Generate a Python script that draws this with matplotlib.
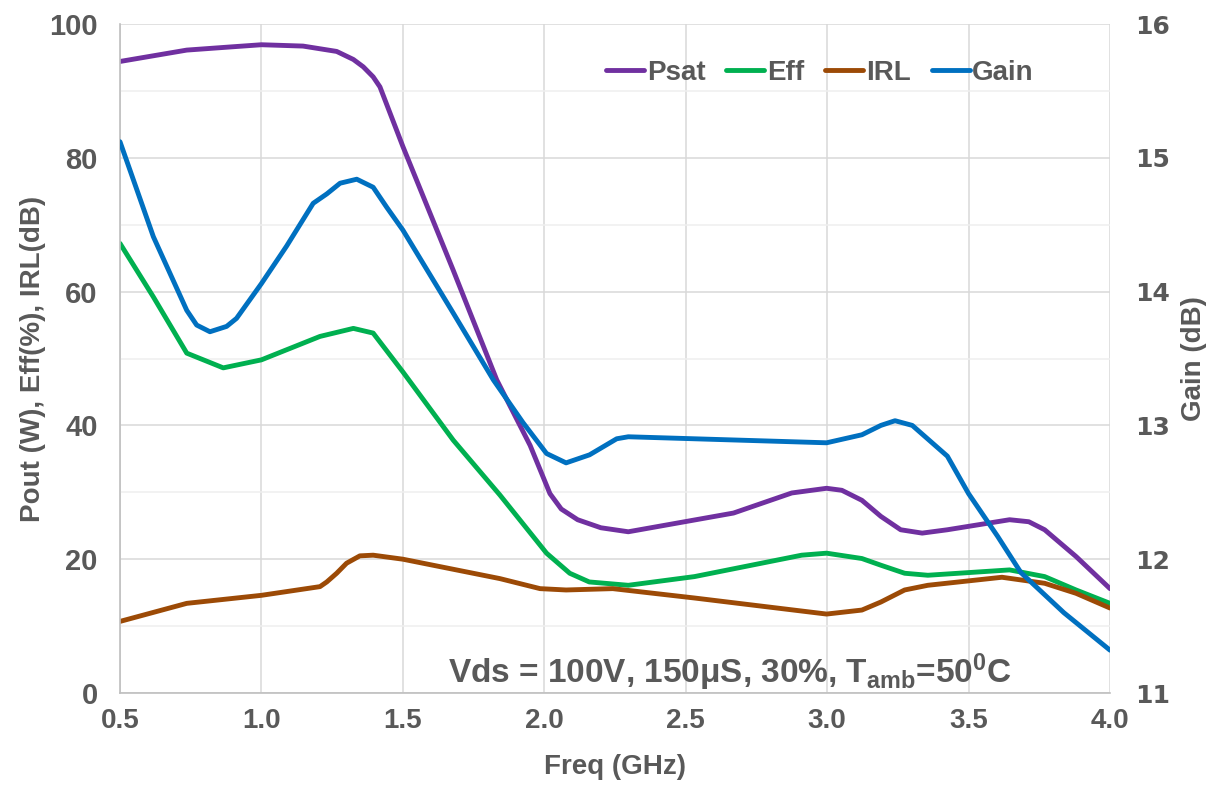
import matplotlib
matplotlib.use("Agg")
import matplotlib.pyplot as plt
from matplotlib.ticker import MultipleLocator, FormatStrFormatter

# ---- data ----
psat_f = [0.5, 0.736, 0.9, 1.0, 1.147, 1.266, 1.325, 1.36, 1.395, 1.419, 1.5, 1.678, 1.832, 1.95, 2.02,
          2.06, 2.118, 2.2, 2.297, 2.669, 2.875, 2.998, 3.052, 3.123, 3.19, 3.26, 3.336, 3.425, 3.645,
          3.713, 3.769, 3.88, 4.0]
psat_v = [94.4, 96.1, 96.6, 96.9, 96.7, 95.9, 94.7, 93.6, 92.1, 90.6, 81.7, 63.2, 46.8, 37.0, 29.8,
          27.5, 25.9, 24.7, 24.1, 26.9, 29.9, 30.6, 30.3, 28.8, 26.4, 24.4, 23.9, 24.4, 25.9,
          25.6, 24.4, 20.4, 15.6]

eff_f = [0.5, 0.618, 0.736, 0.865, 1.0, 1.207, 1.325, 1.395, 1.5, 1.678, 1.843, 2.008, 2.09, 2.159,
         2.297, 2.531, 2.91, 2.998, 3.123, 3.19, 3.274, 3.356, 3.645, 3.769, 3.88, 4.0]
eff_v = [67.2, 59.2, 50.8, 48.6, 49.8, 53.3, 54.5, 53.8, 48.0, 37.8, 29.6, 20.9, 17.9, 16.6,
         16.1, 17.4, 20.6, 20.9, 20.1, 19.1, 17.9, 17.6, 18.4, 17.4, 15.4, 13.4]

irl_f = [0.5, 0.736, 1.0, 1.207, 1.231, 1.266, 1.301, 1.348, 1.395, 1.5, 1.843, 1.985, 2.077, 2.242,
         2.531, 2.998, 3.123, 3.19, 3.274, 3.356, 3.618, 3.769, 3.88, 4.0]
irl_v = [10.7, 13.4, 14.6, 15.9, 16.6, 17.9, 19.4, 20.5, 20.6, 20.0, 17.1, 15.6, 15.4, 15.6,
         14.2, 11.8, 12.4, 13.6, 15.4, 16.1, 17.3, 16.4, 14.9, 12.7]

gain_f = [0.5, 0.618, 0.736, 0.771, 0.818, 0.877, 0.912, 1.0, 1.089, 1.183, 1.231, 1.278, 1.337, 1.395,
          1.443, 1.5, 1.678, 1.82, 1.925, 2.008, 2.077, 2.16, 2.256, 2.297, 2.998, 3.123, 3.19, 3.24,
          3.301, 3.425, 3.5, 3.603, 3.685, 3.837, 4.0]
gain_v = [15.12, 14.41, 13.86, 13.75, 13.70, 13.74, 13.80, 14.06, 14.34, 14.66, 14.73, 14.81, 14.84, 14.78,
          14.63, 14.46, 13.84, 13.34, 13.02, 12.79, 12.72, 12.78, 12.90, 12.915, 12.87, 12.93, 13.00, 13.035,
          13.00, 12.77, 12.49, 12.17, 11.90, 11.60, 11.32]

series_names = ["Psat", "Eff", "IRL", "Gain"]
colors = {"Psat": "#7030A0", "Eff": "#00B050", "IRL": "#9C4A06", "Gain": "#0070C0"}
note = "Vds = 100V, 150\u03bcS, 30%, T$_{amb}$=50$^{0}$C"

TXT = "#595959"
plt.rcParams["font.family"] = ["Liberation Sans", "DejaVu Sans"]
plt.rcParams["mathtext.default"] = "regular"

fig = plt.figure(figsize=(12.12, 7.85), dpi=100)
ax = fig.add_axes([120 / 1212, 1 - 693 / 785, 990 / 1212, 669 / 785])
ax2 = ax.twinx()

lw = 3.5
kw = dict(lw=lw, solid_joinstyle="round", solid_capstyle="round")
h1, = ax.plot(psat_f, psat_v, color=colors["Psat"], **kw)
h2, = ax.plot(eff_f, eff_v, color=colors["Eff"], **kw)
h3, = ax.plot(irl_f, irl_v, color=colors["IRL"], **kw)
h4, = ax2.plot(gain_f, gain_v, color=colors["Gain"], **kw)

ax.set_xlim(0.5, 4.0)
ax.set_ylim(0, 100)
ax2.set_ylim(11, 16)

ax.xaxis.set_major_locator(MultipleLocator(0.5))
ax.xaxis.set_major_formatter(FormatStrFormatter("%.1f"))
ax.yaxis.set_major_locator(MultipleLocator(20))
ax.yaxis.set_minor_locator(MultipleLocator(10))
ax2.yaxis.set_major_locator(MultipleLocator(1))

ax.grid(True, which="major", color="#d9d9d9", lw=1.1, zorder=0)
ax.grid(True, which="minor", axis="y", color="#efefef", lw=1.1, zorder=0)
ax.set_axisbelow(True)

for a in (ax, ax2):
    for s in a.spines.values():
        s.set_visible(False)
for side in ("left", "bottom"):
    ax.spines[side].set_visible(True)
    ax.spines[side].set_color("#bfbfbf")
    ax.spines[side].set_linewidth(1.2)

ax.tick_params(axis="both", which="both", length=0, labelcolor=TXT)
ax.tick_params(axis="y", pad=16, labelsize=21)
ax.tick_params(axis="x", pad=11, labelsize=20)
for t in ax.get_xticklabels() + ax.get_yticklabels():
    t.set_fontweight("bold")
ax2.tick_params(axis="y", length=0, labelsize=18, labelcolor=TXT, pad=18)
for t in ax2.get_yticklabels():
    t.set_fontfamily("DejaVu Sans")
    t.set_fontweight("bold")

ax.set_xlabel("Freq (GHz)", fontsize=20, fontweight="bold", color=TXT, labelpad=14)
ax.set_ylabel("Pout (W), Eff(%), IRL(dB)", fontsize=20, fontweight="bold", color=TXT, labelpad=2)
ax2.set_ylabel("Gain (dB)", fontsize=20, fontweight="bold", color=TXT, labelpad=8)

ax.text(2.656, 1.5, note, ha="center", va="baseline", fontsize=24, fontweight="bold", color=TXT,
        family=["Liberation Sans Narrow", "Liberation Sans", "DejaVu Sans"], zorder=5)

leg = ax2.legend([h1, h2, h3, h4], series_names, loc="center", bbox_to_anchor=(0.707, 0.927),
                 ncol=4, frameon=False, handlelength=1.37, handletextpad=0.1, columnspacing=0.75,
                 prop={"size": 20, "weight": "bold"})
for t in leg.get_texts():
    t.set_color(TXT)

fig.savefig("out.png", dpi=100)
